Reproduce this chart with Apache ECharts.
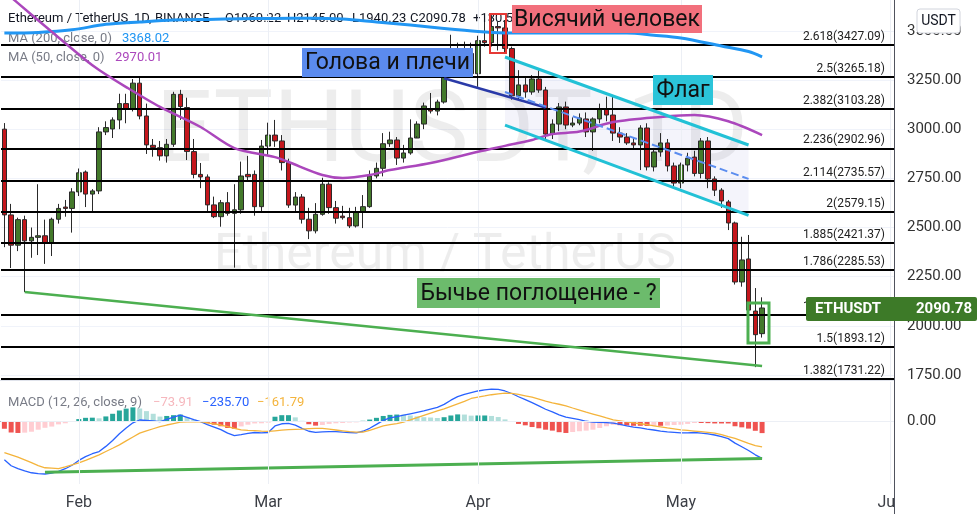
<!DOCTYPE html>
<html><head><meta charset="utf-8">
<script src="https://cdn.jsdelivr.net/npm/echarts/dist/echarts.min.js"></script>
<style>html,body{margin:0;padding:0;background:#fff}#c{width:980px;height:514px}</style>
</head><body><div id="c"></div>
<script>
// ---------- DATA ----------
const N_CAT = 132; // Jan 21 2022 .. Jun 1 2022 (daily)
const categories = [];
for (let i = 0; i < N_CAT; i++) { const d = new Date(Date.UTC(2022, 0, 21 + i)); categories.push(d.toISOString().slice(0, 10)); }
const monthName = {'01':'Jan','02':'Feb','03':'Mar','04':'Apr','05':'May','06':'Jun'};

const opens = [3000,2564,2410,2540,2432,2450,2458,2419,2542,2604,2597,2681,2782,2670,2686,2986,3001,3047,3130,3104,3234,3067,2918,2906,2864,2923,3177,3110,2886,2770,2757,2615,2555,2626,2572,2590,2770,2770,2606,2914,2970,2940,2830,2614,2655,2542,2483,2567,2720,2601,2558,2550,2508,2580,2606,2762,2801,2926,2945,2853,2879,2955,3026,3103,3092,3138,3286,3330,3400,3385,3282,3450,3440,3522,3515,3410,3170,3225,3189,3255,3199,2975,3026,3113,3021,3031,3052,2986,3052,3103,3072,2980,2960,2930,2920,3006,2808,2884,2930,2813,2726,2818,2858,2775,2940,2747,2690,2630,2523,2223,2340,2075,1960.22];
const highs = [3031,2620,2550,2560,2500,2720,2540,2550,2620,2640,2700,2800,2790,2695,3010,3040,3060,3180,3180,3255,3270,3130,2950,2940,2950,3190,3200,3160,2950,2828,2770,2657,2640,2680,2720,2835,2864,2790,2945,3033,3047,2970,2850,2680,2670,2600,2624,2753,2730,2635,2610,2600,2605,2665,2790,2830,2980,2987,2960,2920,3050,3040,3135,3184,3150,3290,3480,3440,3445,3440,3475,3545,3580,3545,3555,3420,3300,3260,3275,3300,3215,3050,3133,3140,3060,3080,3085,3060,3130,3165,3174,3010,2980,2960,3020,3030,2900,2980,2950,2830,2830,2880,2890,2955,2960,2760,2700,2640,2530,2453,2462,2192,2145.00];
const lows = [2400,2294,2380,2172,2346,2360,2315,2355,2520,2555,2474,2660,2604,2577,2670,2970,2955,3000,3030,3090,3050,2874,2860,2840,2830,2910,3047,2843,2750,2700,2579,2548,2504,2560,2296,2570,2740,2560,2580,2870,2910,2790,2600,2580,2520,2441,2470,2560,2570,2520,2540,2497,2500,2497,2600,2750,2760,2910,2818,2830,2870,2965,3000,3080,3070,3130,3270,3320,3345,3275,3215,3420,3420,3400,3390,3150,3150,3160,3175,3185,2950,2950,2990,3000,3010,3020,2960,2890,3030,3040,2940,2930,2920,2900,2792,2790,2785,2860,2785,2710,2700,2785,2760,2750,2700,2660,2600,2487,2210,2199,2070,1790,1940.23];
const closes = [2564,2410,2540,2432,2450,2458,2419,2542,2597,2597,2681,2778,2670,2686,2986,3008,3047,3130,3104,3234,3067,2920,2906,2864,2923,3177,3115,2886,2770,2757,2615,2555,2626,2572,2590,2762,2758,2606,2914,2970,2940,2830,2614,2655,2542,2483,2567,2720,2601,2547,2550,2508,2580,2606,2762,2801,2926,2945,2853,2879,2955,3026,3118,3092,3138,3286,3330,3400,3385,3282,3450,3440,3522,3515,3410,3170,3225,3189,3255,3199,2975,3026,3113,3021,3031,3057,2986,3052,3103,3072,2980,2960,2930,2920,3006,2808,2884,2930,2813,2726,2818,2852,2775,2940,2747,2690,2635,2523,2223,2335,2080,1955,2090.78];

const ma200Pts = [[0,3489],[5,3492],[10,3505],[15,3533],[20,3545],[25,3555],[30,3558],[35,3561],[40,3563],[45,3564],[50,3560],[55,3545],[60,3530],[65,3512],[70,3497],[75,3489],[80,3489],[85,3489],[92,3489],[96,3478],[100,3464],[106,3423],[110,3395],[112,3368.02]];
const ma50Pts = [[0,3700],[2,3641],[7,3495],[12,3352],[14,3301],[18,3214],[23,3113],[29,3011],[34,2904],[40,2858],[42,2833],[47,2767],[50,2752],[54,2767],[57,2792],[63,2828],[70,2885],[74,2915],[78,2945],[81,2975],[85,2988],[90,3036],[97,3062],[102,3072],[107,3040],[112,2970.01]];

const macdLine = [-245,-283,-301,-316,-328,-334,-336,-330,-319,-302,-280,-249,-225,-206,-192,-159,-121,-78,-41,-8,10,7,4,0,14,28,41,27,12,-1,-19,-35,-52,-74,-90,-84,-76,-70,-72,-70,-28,-14,-11,-23,-43,-62,-69,-66,-64,-65,-68,-70,-73,-62,-43,-18,8,23,32,41,50,59,68,80,91,110,137,160,175,186,196,203,208,206,196,180,159,141,121,101,79,62,43,28,20,12,2,-4,-5,-7,-10,-18,-27,-35,-41,-48,-54,-61,-66,-69,-73,-72,-70,-74,-79,-86,-96,-109,-138,-161,-185,-213,-235.70];
const signalLine = [-199,-213,-228,-245,-263,-282,-296,-298,-301,-291,-278,-265,-249,-231,-213,-192,-171,-149,-124,-99,-74,-60,-46,-32,-22,-13,-4,-2,0,-1,-8,-15,-22,-33,-44,-53,-56,-58,-61,-63,-59,-55,-52,-50,-48,-45,-43,-44,-49,-54,-59,-64,-68,-67,-56,-42,-28,-20,-13,-3,11,26,40,54,68,82,98,114,130,148,157,164,172,177,182,181,174,165,156,144,131,120,111,101,87,74,60,48,36,23,11,5,-2,-8,-14,-20,-27,-34,-41,-47,-53,-57,-61,-65,-69,-74,-84,-97,-108,-124,-140,-154,-161.79];
const histogram = [-46,-70,-73,-71,-65,-52,-40,-32,-18,-11,-2,16,24,25,21,33,50,71,83,91,84,67,50,32,36,41,45,29,12,0,-11,-20,-30,-41,-46,-31,-20,-12,-11,-7,31,41,41,27,5,-17,-26,-22,-15,-11,-9,-6,-5,5,13,24,36,43,45,44,39,33,28,26,23,28,39,46,45,38,39,39,36,29,14,-1,-15,-24,-35,-43,-52,-58,-68,-73,-67,-62,-58,-52,-41,-30,-21,-23,-25,-27,-27,-28,-27,-27,-25,-22,-20,-15,-9,-9,-10,-12,-12,-12,-30,-37,-45,-59,-73.91];

const fibRatios = ['2.618','2.5','2.382','2.236','2.114','2','1.885','1.786','1.618','1.5','1.382'];
const fibPrices = [3427.09,3265.18,3103.28,2902.96,2735.57,2579.15,2421.37,2285.53,2055.03,1893.12,1731.22];

const necklinePts = [[65,3259],[80,3110]];
const flagMidPts = [[74,3189],[110,2747]];
const flagUpperPts = [[74,3367],[110,2919.5]];
const flagLowerPts = [[74,3021],[110,2562]];
const supportPts = [[3,2172],[112,1796]];
const macdSupportPts = [[6,-325],[112,-236]];

// ---------- CHART ----------
const FONT = 'Roboto, "Noto Sans", sans-serif';
const chart = echarts.init(document.getElementById('c'), null, {renderer:'canvas', width:980, height:514});
const candleData = opens.map((o, i) => [o, closes[i], lows[i], highs[i]]);
const monthStarts = categories.filter(c => c.endsWith('-01'));
const monthLineData = monthStarts.map(c => ({xAxis: c}));
const histData = histogram.map((v, i) => {
  const prev = i > 0 ? histogram[i-1] : v;
  let col;
  if (v >= 0) col = v >= prev ? '#26a69a' : '#b2dfdb';
  else col = v <= prev ? '#ef5350' : '#ffcdd2';
  return {value: v, itemStyle: {color: col}};
});
const flagWidth = flagUpperPts.map((p, k) => [p[0], +(p[1] - flagLowerPts[k][1]).toFixed(2)]);
const segLine = (name, data, color, width, type, z, xi) => ({
  name, type:'line', data, xAxisIndex: xi||0, yAxisIndex: xi||0, symbol:'none', silent:true, z,
  lineStyle:{color, width, type: type||'solid'}, animation:false
});

const option = {
  animation:false,
  backgroundColor:'#ffffff',
  grid:[{left:1, right:86, top:0, height:424.17}, {left:1, right:86, top:381, height:103}],
  xAxis:[
    {type:'category', gridIndex:0, data:categories, boundaryGap:true, axisLine:{show:false}, axisTick:{show:false}, axisLabel:{show:false}, splitLine:{show:false}},
    {type:'category', gridIndex:1, data:categories, boundaryGap:true, axisLine:{show:true, lineStyle:{color:'#50535e', width:1}}, axisTick:{show:false},
      axisLabel:{interval:(i, v) => v.endsWith('-01'), formatter:v => monthName[v.slice(5,7)], color:'#3b3e45', fontSize:16, fontFamily:FONT, margin:11}, splitLine:{show:false}}
  ],
  yAxis:[
    {type:'value', gridIndex:0, position:'right', min:1500, max:3656.77, interval:250, axisLine:{show:false}, axisTick:{show:false},
      axisLabel:{formatter:v => (v < 1750 || v > 3500) ? '' : v.toFixed(2), color:'#333', fontSize:15, fontFamily:FONT, margin:13},
      splitLine:{show:true, showMinLine:false, showMaxLine:false, lineStyle:{color:'#f0f3fa'}}},
    {type:'value', gridIndex:1, position:'right', min:-400, max:260, interval:100, axisLine:{show:false}, axisTick:{show:false},
      axisLabel:{formatter:v => v === 0 ? '0.00' : '', color:'#333', fontSize:15, fontFamily:FONT, margin:13}, splitLine:{show:false}}
  ],
  series:[
    {name:'monthGrid', type:'line', data:[], xAxisIndex:0, yAxisIndex:0, z:1, silent:true,
      markLine:{silent:true, symbol:'none', label:{show:false}, lineStyle:{color:'#eceff5', width:1, type:'solid'}, data:monthLineData}},
    {name:'flagBase', type:'line', data:flagLowerPts, stack:'flag', symbol:'none', silent:true, z:1, lineStyle:{opacity:0}},
    {name:'flagFill', type:'line', data:flagWidth, stack:'flag', symbol:'none', silent:true, z:1, lineStyle:{opacity:0}, areaStyle:{color:'rgba(110,120,210,0.11)'}},
    {name:'ETHUSDT', type:'candlestick', data:candleData, xAxisIndex:0, yAxisIndex:0, z:3, barWidth:5,
      itemStyle:{color:'#43792b', color0:'#c4161c', borderColor:'#2a2a2a', borderColor0:'#2a2a2a', borderWidth:1}},
    {name:'fib', type:'line', data:[], xAxisIndex:0, yAxisIndex:0, z:4, silent:true,
      markLine:{silent:true, symbol:'none', lineStyle:{color:'#000', width:2, type:'solid'},
        label:{show:true, position:'insideEndTop', formatter:'{b}', color:'#222', fontSize:12, fontFamily:FONT, distance:[9,2]},
        data:fibPrices.map((p, k) => ({yAxis:p, name:fibRatios[k] + '(' + p.toFixed(2) + ')'}))}},
    Object.assign(segLine('MA200', ma200Pts, '#2196f3', 3, 'solid', 5), {smooth:0.3}),
    Object.assign(segLine('MA50', ma50Pts, '#ab47bc', 2.5, 'solid', 5), {smooth:0.3}),
    segLine('neckline', necklinePts, '#2a3aa8', 2.5, 'solid', 6),
    segLine('flagMid', flagMidPts, '#5b8def', 2, 'dashed', 6),
    segLine('flagUpper', flagUpperPts, '#22c1d6', 3, 'solid', 6),
    segLine('flagLower', flagLowerPts, '#22c1d6', 3, 'solid', 6),
    segLine('support', supportPts, '#4caf50', 2.5, 'solid', 6),
    {name:'hist', type:'bar', data:histData, xAxisIndex:1, yAxisIndex:1, barWidth:5, z:2,
      markLine:{silent:true, symbol:'none', label:{show:false}, lineStyle:{color:'#eceff5', width:1, type:'solid'},
        data:monthLineData.concat([{yAxis:0}])}},
    segLine('MACD', macdLine.map((v, i) => [i, v]), '#2962ff', 1.3, 'solid', 3, 1),
    segLine('Signal', signalLine.map((v, i) => [i, v]), '#f4b43c', 1.3, 'solid', 3, 1),
    segLine('macdSupport', macdSupportPts, '#4caf50', 3, 'solid', 4, 1)
  ]
};
chart.setOption(option);

// ---------- DECORATIONS ----------
const last = opens.length - 1;
const fmt = v => v.toFixed(2).replace('-', '\u2212');
const tagPt = chart.convertToPixel({gridIndex:0}, [last, closes[last]]);
const txt = (x, y, text, fill, size, extra) => Object.assign({type:'text', x, y, z:0, silent:true,
  style:{text, fill, font: (size||13) + 'px ' + FONT, align:'left', verticalAlign:'middle'}}, extra||{});
const box = (x, y, w, h, fill, label) => ({type:'group', z:100, children:[
  {type:'rect', shape:{x, y, width:w, height:h}, style:{fill}, z:100},
  {type:'text', x:x + w/2, y:y + h/2 + 1, z:101, style:{text:label, fill:'#111', font:'23px ' + FONT, align:'center', verticalAlign:'middle'}}
]});
const change = closes[last] - opens[last];
const graphics = [
  {type:'text', x:452, y:136, z:0, silent:true, style:{text:'ETHUSDT, 1D', fill:'rgba(0,0,0,0.07)', font:'100px ' + FONT, align:'center', verticalAlign:'middle'}},
  {type:'text', x:445, y:256, z:0, silent:true, style:{text:'Ethereum / TetherUS', fill:'rgba(0,0,0,0.07)', font:'50px ' + FONT, align:'center', verticalAlign:'middle'}},
  txt(8, 19, 'Ethereum / TetherUS, 1D, BINANCE', '#131722'),
  txt(225, 19, 'O' + opens[last].toFixed(2), '#131722'),
  txt(287, 19, 'H' + highs[last].toFixed(2), '#131722'),
  txt(352, 19, 'L' + lows[last].toFixed(2), '#131722'),
  txt(410, 19, 'C' + closes[last].toFixed(2), '#131722'),
  txt(473, 19, '+' + change.toFixed(2) + ' (+' + (change / opens[last] * 100).toFixed(2) + '%)', '#131722'),
  txt(8, 39, 'MA (200, close, 0)', '#787b86'),
  txt(122, 39, ma200Pts[ma200Pts.length-1][1].toFixed(2), '#2196f3'),
  txt(8, 58, 'MA (50, close, 0)', '#787b86'),
  txt(115, 58, ma50Pts[ma50Pts.length-1][1].toFixed(2), '#ab47bc'),
  txt(8, 403, 'MACD (12, 26, close, 9)', '#787b86'),
  txt(153, 403, fmt(histogram[last]), '#f6b7bd'),
  txt(202, 403, fmt(macdLine[last]), '#2962ff'),
  txt(257, 403, fmt(signalLine[last]), '#f4b43c'),
  // pane frames
  {type:'rect', z:49, silent:true, shape:{x:1, y:381, width:893, height:1}, style:{fill:'#fff'}},
  {type:'line', z:50, silent:true, shape:{x1:0, y1:380.5, x2:894, y2:380.5}, style:{stroke:'#e0e3eb', lineWidth:1}},
  {type:'rect', z:50, silent:true, shape:{x:894.5, y:485, width:86, height:29}, style:{fill:'#fff'}},
  {type:'line', z:51, silent:true, shape:{x1:894.5, y1:0, x2:894.5, y2:514}, style:{stroke:'#50535e', lineWidth:1}},
  {type:'group', z:100, children:[
    {type:'rect', z:100, shape:{x:917, y:9, width:43, height:24, r:3}, style:{fill:'#fff', stroke:'#d1d4dc', lineWidth:1}},
    {type:'text', z:101, x:938.5, y:21.5, style:{text:'USDT', fill:'#131722', font:'14px ' + FONT, align:'center', verticalAlign:'middle'}}
  ]},
  // annotations
  box(302, 48, 171, 29, '#5b8bee', 'Голова и плечи'),
  box(512, 5, 190, 28, '#f2707c', 'Висячий человек'),
  box(653, 75, 60, 30, '#2bc4d9', 'Флаг'),
  box(417, 278, 243, 30, '#6cbb6c', 'Бычье поглощение - ?'),
  {type:'rect', z:90, silent:true, shape:{x:490, y:14, width:16, height:39}, style:{fill:'none', stroke:'#e53935', lineWidth:2}},
  {type:'rect', z:90, silent:true, shape:{x:748, y:303, width:21, height:40}, style:{fill:'none', stroke:'#4caf50', lineWidth:3}},
  // last price tag
  {type:'group', z:110, children:[
    {type:'rect', z:110, shape:{x:806, y:tagPt[1] - 11, width:171, height:24, r:2}, style:{fill:'#3d7a28'}},
    {type:'text', z:111, x:815, y:tagPt[1] + 1, style:{text:'ETHUSDT', fill:'#fff', font:'bold 15px ' + FONT, align:'left', verticalAlign:'middle'}},
    {type:'text', z:111, x:972, y:tagPt[1] + 1, style:{text:closes[last].toFixed(2), fill:'#fff', font:'bold 15px ' + FONT, align:'right', verticalAlign:'middle'}}
  ]}
];
chart.setOption({graphic: graphics});
</script>
</body></html>
